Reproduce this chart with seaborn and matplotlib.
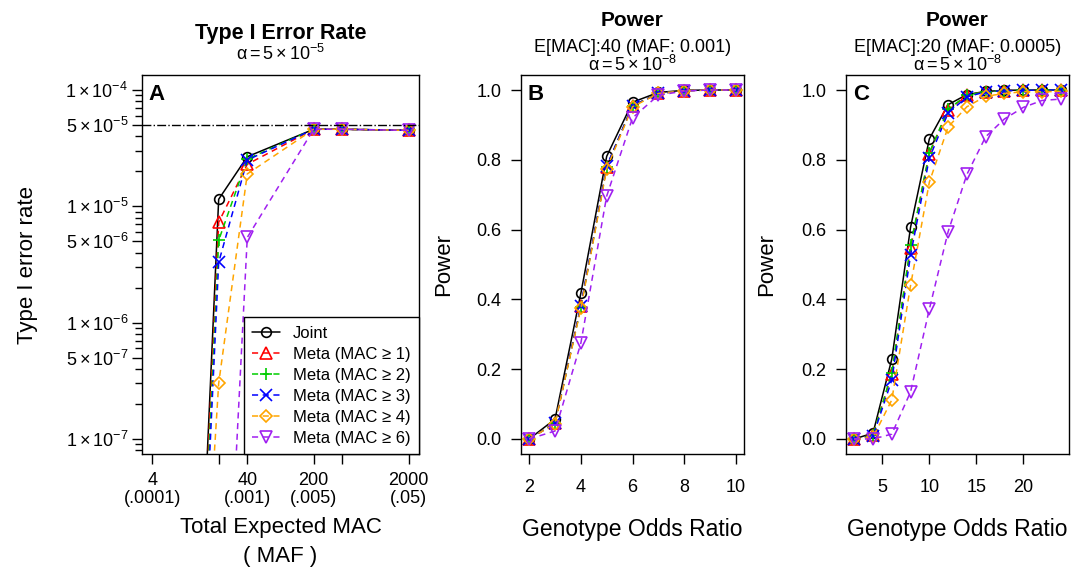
import numpy as np
import pandas as pd
import matplotlib
matplotlib.use("Agg")
import matplotlib.pyplot as plt
import matplotlib.ticker as mticker
import seaborn as sns

sns.set_theme(style="ticks")
plt.rcParams["font.family"] = ["Liberation Sans", "DejaVu Sans"]
plt.rcParams["mathtext.fontset"] = "custom"
plt.rcParams["mathtext.rm"] = "Liberation Sans"
plt.rcParams["mathtext.it"] = "Liberation Sans:italic"
plt.rcParams["axes.edgecolor"] = "black"
plt.rcParams["axes.labelcolor"] = "black"
plt.rcParams["text.color"] = "black"
plt.rcParams["xtick.color"] = "black"
plt.rcParams["ytick.color"] = "black"
plt.rcParams["legend.labelcolor"] = "black"

# ---- data -------------------------------------------------------------
series_names = ["Joint", "Meta (MAC ≥ 1)", "Meta (MAC ≥ 2)", "Meta (MAC ≥ 3)",
                "Meta (MAC ≥ 4)", "Meta (MAC ≥ 6)"]

# panel A: type I error vs total expected MAC
mac_x = [4, 20, 40, 200, 400, 2000]
t1_joint = [2e-18, 1.15e-5, 2.67e-5, 4.6e-5, 4.6e-5, 4.5e-5]
t1_meta1 = [2e-18, 7.3e-6, 2.3e-5, 4.6e-5, 4.6e-5, 4.5e-5]
t1_meta2 = [2e-18, 5.1e-6, 2.55e-5, 4.6e-5, 4.6e-5, 4.5e-5]
t1_meta3 = [2e-18, 3.3e-6, 2.5e-5, 4.6e-5, 4.6e-5, 4.5e-5]
t1_meta4 = [2e-16, 3.0e-7, 1.9e-5, 4.6e-5, 4.6e-5, 4.5e-5]
t1_meta6 = [1e-18, 8e-11, 5.4e-6, 4.6e-5, 4.6e-5, 4.5e-5]
alpha_a = 5e-5
a_ticks = [4, 20, 40, 200, 400, 2000]
a_ticklabels = ["4\n(.0001)", "", "40\n(.001)", "200\n(.005)", "", "2000\n(.05)"]
a_yticks = [1e-7, 5e-7, 1e-6, 5e-6, 1e-5, 5e-5, 1e-4]
a_yticklabels = [r"$\mathregular{1\times10^{-7}}$", r"$\mathregular{5\times10^{-7}}$",
                 r"$\mathregular{1\times10^{-6}}$", r"$\mathregular{5\times10^{-6}}$",
                 r"$\mathregular{1\times10^{-5}}$", r"$\mathregular{5\times10^{-5}}$",
                 r"$\mathregular{1\times10^{-4}}$"]

# panel B: power, E[MAC]=40
or_b = [2, 3, 4, 5, 6, 7, 8, 9, 10]
pb_joint = [0.0, 0.057, 0.418, 0.81, 0.965, 0.993, 0.999, 1.0, 1.0]
pb_meta1 = [0.0, 0.047, 0.38, 0.78, 0.955, 0.99, 0.998, 1.0, 1.0]
pb_meta2 = [0.0, 0.046, 0.378, 0.78, 0.955, 0.99, 0.998, 1.0, 1.0]
pb_meta3 = [0.0, 0.045, 0.382, 0.782, 0.955, 0.99, 0.998, 1.0, 1.0]
pb_meta4 = [0.0, 0.044, 0.375, 0.775, 0.952, 0.99, 0.998, 1.0, 1.0]
pb_meta6 = [0.0, 0.023, 0.275, 0.696, 0.92, 0.985, 0.997, 1.0, 1.0]

# panel C: power, E[MAC]=20
or_c = [2, 4, 6, 8, 10, 12, 14, 16, 18, 20, 22, 24]
pc_joint = [0.0, 0.017, 0.229, 0.607, 0.86, 0.958, 0.987, 0.996, 0.999, 1.0, 1.0, 1.0]
pc_meta1 = [0.0, 0.012, 0.186, 0.547, 0.818, 0.942, 0.985, 0.995, 0.998, 1.0, 1.0, 1.0]
pc_meta2 = [0.0, 0.011, 0.19, 0.555, 0.82, 0.945, 0.985, 0.995, 0.998, 1.0, 1.0, 1.0]
pc_meta3 = [0.0, 0.008, 0.169, 0.527, 0.805, 0.934, 0.98, 0.995, 0.998, 0.999, 1.0, 1.0]
pc_meta4 = [0.0, 0.005, 0.112, 0.44, 0.736, 0.894, 0.952, 0.982, 0.99, 0.995, 0.995, 0.996]
pc_meta6 = [0.0, 0.0, 0.014, 0.135, 0.372, 0.594, 0.758, 0.866, 0.917, 0.95, 0.97, 0.974]

# ---- styles -------------------------------------------------------------
colors = ["black", "#FF0000", "#00CD00", "#0000FF", "#FFA500", "#A020F0"]
markers = ["o", "^", "+", "x", "D", "v"]
msizes = [7, 8, 9, 8, 6, 8]
dash = (0, (4, 3))
lstyles = ["-", dash, dash, dash, dash, dash]


def draw_series(ax, x, ys):
    for i, y in enumerate(ys):
        sns.lineplot(x=x, y=y, ax=ax, color=colors[i], marker=markers[i],
                     markersize=msizes[i], markerfacecolor="none",
                     markeredgecolor=colors[i], markeredgewidth=1.2,
                     linestyle=lstyles[i], linewidth=1.1, label=series_names[i],
                     legend=False, sort=False)


def header(ax, lines):
    # lines: list of (text, offset_pts, size, weight)
    for txt, off, size, weight in lines:
        ax.annotate(txt, xy=(0.5, 1), xycoords="axes fraction", xytext=(0, off),
                    textcoords="offset points", ha="center", va="baseline",
                    fontsize=size, fontweight=weight)


fig = plt.figure(figsize=(10.76, 5.67), dpi=100)
W, H = 1076, 567
axA = fig.add_axes([142 / W, (H - 454) / H, 277 / W, 379 / H])
axB = fig.add_axes([521 / W, (H - 454) / H, 223 / W, 379 / H])
axC = fig.add_axes([846 / W, (H - 454) / H, 223 / W, 379 / H])

# ---- panel A ------------------------------------------------------------
axA.set_xscale("log")
axA.set_yscale("log")
draw_series(axA, mac_x, [t1_joint, t1_meta1, t1_meta2, t1_meta3, t1_meta4, t1_meta6])
axA.axhline(alpha_a, color="black", linestyle="-.", linewidth=1.0)
axA.set_xlim(3.12, 2565)
axA.set_ylim(7.43e-8, 1.346e-4)
axA.xaxis.set_major_locator(mticker.FixedLocator(a_ticks))
axA.xaxis.set_major_formatter(mticker.FixedFormatter(a_ticklabels))
axA.xaxis.set_minor_locator(mticker.NullLocator())
axA.yaxis.set_major_locator(mticker.FixedLocator(a_yticks))
axA.yaxis.set_major_formatter(mticker.FixedFormatter(a_yticklabels))
axA.yaxis.set_minor_locator(mticker.LogLocator(base=10, subs=[2, 3, 4, 6, 7, 8, 9]))
axA.yaxis.set_minor_formatter(mticker.NullFormatter())
axA.tick_params(axis="x", which="major", length=7, width=1, pad=6, labelsize=13)
axA.tick_params(axis="y", which="major", length=7, width=1, pad=3, labelsize=13)
axA.tick_params(axis="y", which="minor", length=5, width=1)
for lab in axA.get_xticklabels():
    lab.set_linespacing(1.05)
axA.set_ylabel("Type I error rate", fontsize=16)
axA.yaxis.set_label_coords(-0.375, 0.5)
axA.set_xlabel("Total Expected MAC\n( MAF )", fontsize=16, linespacing=1.5)
axA.xaxis.set_label_coords(0.5, -0.165)
axA.text(0.025, 0.975, "A", transform=axA.transAxes, ha="left", va="top",
         fontsize=16, fontweight="bold")
header(axA, [("Type I Error Rate", 26, 15.5, "bold"),
             (r"$\mathregular{α = 5\times10^{-5}}$", 11, 13, "normal")])
axA.legend(loc="lower right", fontsize=12, frameon=True, fancybox=False,
           edgecolor="black", framealpha=1, borderaxespad=0, handlelength=1.7,
           labelspacing=0.36, borderpad=0.5, handletextpad=0.75)
axA.get_legend().get_frame().set_linewidth(1.0)

# ---- panels B and C -----------------------------------------------------
draw_series(axB, or_b, [pb_joint, pb_meta1, pb_meta2, pb_meta3, pb_meta4, pb_meta6])
axB.set_xlim(1.68, 10.32)
axB.set_xticks([2, 4, 6, 8, 10])
header(axB, [("Power", 35, 15, "bold"),
             ("E[MAC]:40 (MAF: 0.001)", 16.5, 13, "normal"),
             (r"$\mathregular{α = 5\times10^{-8}}$", 3, 13, "normal")])
axB.text(0.03, 0.975, "B", transform=axB.transAxes, ha="left", va="top",
         fontsize=16, fontweight="bold")

draw_series(axC, or_c, [pc_joint, pc_meta1, pc_meta2, pc_meta3, pc_meta4, pc_meta6])
axC.set_xlim(1.12, 24.88)
axC.set_xticks([5, 10, 15, 20])
header(axC, [("Power", 35, 15, "bold"),
             ("E[MAC]:20 (MAF: 0.0005)", 16.5, 13, "normal"),
             (r"$\mathregular{α = 5\times10^{-8}}$", 3, 13, "normal")])
axC.text(0.03, 0.975, "C", transform=axC.transAxes, ha="left", va="top",
         fontsize=16, fontweight="bold")

for ax, ylab_x in ((axB, -0.30), (axC, -0.31)):
    ax.set_ylim(-0.043, 1.043)
    ax.set_yticks([0.0, 0.2, 0.4, 0.6, 0.8, 1.0])
    ax.yaxis.set_major_formatter(mticker.FormatStrFormatter("%.1f"))
    ax.tick_params(axis="x", length=7, width=1, pad=11, labelsize=13)
    ax.tick_params(axis="y", length=7, width=1, pad=7, labelsize=13)
    ax.set_xlabel("Genotype Odds Ratio", fontsize=16.5)
    ax.xaxis.set_label_coords(0.5, -0.17)
    ax.set_ylabel("Power", fontsize=16)
    ax.yaxis.set_label_coords(ylab_x, 0.5)

for ax in (axA, axB, axC):
    for sp in ax.spines.values():
        sp.set_visible(True)
        sp.set_linewidth(1.0)
        sp.set_color("black")

fig.savefig("out.png", dpi=100, facecolor="white")
